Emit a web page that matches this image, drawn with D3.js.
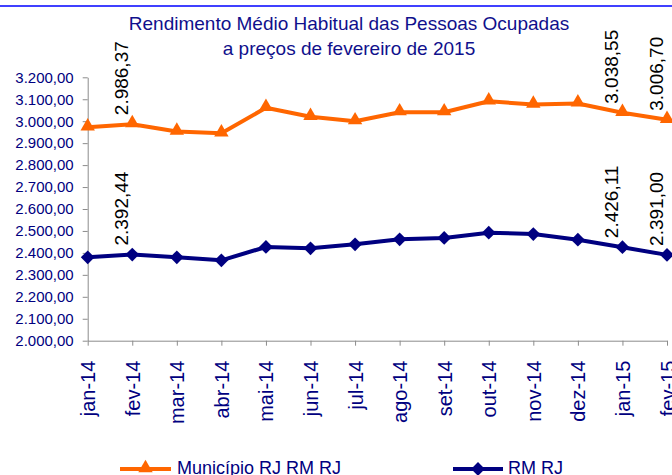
<!DOCTYPE html>
<html lang="pt">
<head>
<meta charset="UTF-8" />
<script src="https://d3js.org/d3.v7.min.js"></script>
<title>Rendimento Médio Habitual</title>
<style>
  body { margin: 0; background: #fff; }
  text { font-family: "Liberation Sans", Arial, sans-serif; }
</style>
</head>
<body>
<script>
// data
var months = ["jan-14","fev-14","mar-14","abr-14","mai-14","jun-14","jul-14","ago-14","set-14","out-14","nov-14","dez-14","jan-15","fev-15"];
var municipio = [2972, 2986.37, 2953, 2945, 3061, 3020, 3000, 3041, 3041, 3091, 3076, 3081, 3038.55, 3006.70];
var rmrj = [2380, 2392.44, 2380, 2366, 2427, 2421, 2439, 2462, 2468, 2492, 2486, 2460, 2426.11, 2391.00];
var labelled = ["fev-14", "jan-15", "fev-15"];
var yTicks = d3.range(2000, 3201, 100);
var titleLines = ["Rendimento Médio Habitual das Pessoas Ocupadas", "a preços de fevereiro de 2015"];
var seriesNames = ["Município RJ RM RJ", "RM RJ"];

var W = 672, H = 475;
var navy = "#000080", orange = "#ff6600", axisGray = "#8c8c8c";

var svg = d3.select("body").append("svg").attr("width", W).attr("height", H);

// blue rule along the top
svg.append("line").attr("x1", 0).attr("x2", W).attr("y1", 6).attr("y2", 6)
  .attr("stroke", "#0000ff").attr("stroke-width", 1.5);

var x = d3.scalePoint().domain(months).range([87.7, 667]);
var y = d3.scaleLinear().domain([2000, 3200]).range([340.7, 77.3]);

var fmt = d3.formatLocale({decimal: ",", thousands: ".", grouping: [3], currency: ["R$", ""]}).format(",.2f");

// title
svg.selectAll(".title").data(titleLines).enter().append("text")
  .attr("x", 349).attr("y", function(d, i) { return 30 + i * 25; })
  .attr("text-anchor", "middle").attr("fill", "#10108c").style("font-size", "19px")
  .text(function(d) { return d; });

// y axis
var gy = svg.append("g").attr("transform", "translate(" + x(months[0]) + ",0)")
  .call(d3.axisLeft(y).tickValues(yTicks).tickFormat(fmt).tickSize(5).tickSizeOuter(0));
gy.select(".domain").attr("stroke", axisGray);
gy.selectAll(".tick line").attr("stroke", axisGray);
gy.selectAll(".tick text").attr("fill", navy).attr("x", -14).style("font-size", "15px");

// x axis
var gx = svg.append("g").attr("transform", "translate(0," + y(2000) + ")")
  .call(d3.axisBottom(x).tickSize(5).tickSizeOuter(0));
gx.select(".domain").attr("stroke", axisGray);
gx.selectAll(".tick line").attr("stroke", axisGray);
gx.selectAll(".tick text").attr("fill", navy).style("font-size", "20px")
  .attr("text-anchor", "end").attr("transform", "rotate(-90)")
  .attr("x", -20).attr("y", 0).attr("dy", "0.35em");

var series = [
  {name: seriesNames[0], values: municipio, color: orange, shape: "tri"},
  {name: seriesNames[1], values: rmrj, color: navy, shape: "dia"}
];

var line = d3.line().x(function(d) { return x(d.m); }).y(function(d) { return y(d.v); });
var tri = d3.symbol().type(d3.symbolTriangle).size(90);
var dia = d3.symbol().type(d3.symbolSquare).size(95);

function marker(sel, s) {
  sel.append("path").attr("d", s.shape == "tri" ? tri() : dia())
    .attr("fill", s.color)
    .attr("transform", function(d) {
      return "translate(" + d.x + "," + d.y + ")" + (s.shape == "dia" ? " rotate(45)" : " translate(0,-1)");
    });
}

series.forEach(function(s) {
  var pts = months.map(function(m, i) { return {m: m, v: s.values[i]}; });
  svg.append("path").datum(pts).attr("d", line)
    .attr("fill", "none").attr("stroke", s.color).attr("stroke-width", 4).attr("stroke-linejoin", "round");
  var g = svg.append("g");
  g.selectAll("g").data(pts).enter().append("g").each(function(d) {
    marker(d3.select(this).datum({x: x(d.m), y: y(d.v)}), s);
  });
  // value labels
  svg.selectAll(null).data(pts.filter(function(d) { return labelled.indexOf(d.m) >= 0; }))
    .enter().append("text")
    .attr("transform", function(d) { return "translate(" + (x(d.m) - 4.5) + "," + (y(d.v) - 9) + ") rotate(-90)"; })
    .attr("text-anchor", "start").attr("fill", "#000").style("font-size", "19px")
    .text(function(d) { return fmt(d.v); });
});

// legend
var legend = [
  {name: seriesNames[0], color: orange, shape: "tri", x1: 120, x2: 171, tx: 177},
  {name: seriesNames[1], color: navy, shape: "dia", x1: 453, x2: 503, tx: 508}
];
legend.forEach(function(l) {
  svg.append("line").attr("x1", l.x1).attr("x2", l.x2).attr("y1", 469).attr("y2", 469)
    .attr("stroke", l.color).attr("stroke-width", 4);
  marker(svg.append("g").datum({x: (l.x1 + l.x2) / 2, y: 469}), l);
  svg.append("text").attr("x", l.tx).attr("y", 474).attr("fill", navy)
    .style("font-size", "18px").text(l.name);
});
</script>
</body>
</html>
